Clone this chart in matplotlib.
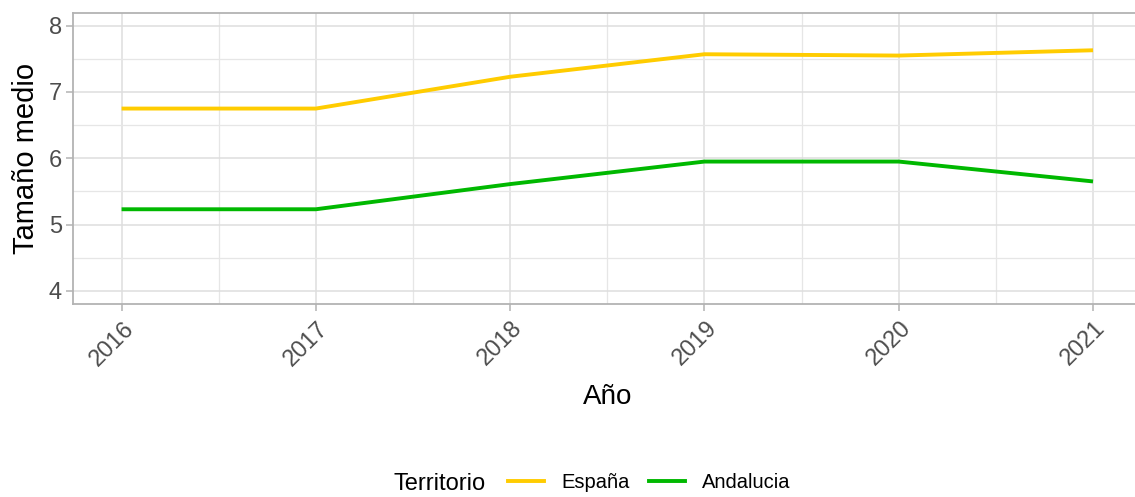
import matplotlib
matplotlib.use('Agg')
import matplotlib.pyplot as plt
from matplotlib.ticker import MultipleLocator
from matplotlib.lines import Line2D
import matplotlib.transforms as mtransforms

plt.rcParams['font.family'] = ['Liberation Sans', 'DejaVu Sans']

years = [2016, 2017, 2018, 2019, 2020, 2021]
espana = [6.75, 6.75, 7.23, 7.57, 7.55, 7.63]
andalucia = [5.23, 5.23, 5.61, 5.95, 5.95, 5.65]
series_names = ['España', 'Andalucia']
series_colors = ['#FFCC00', '#00B800']

W, H = 1135, 497
fig = plt.figure(figsize=(W / 100, H / 100), dpi=100)
ax = fig.add_axes([73 / W, 1 - 304 / H, (1141.6 - 73) / W, (304 - 12.5) / H])

ax.plot(years, espana, color=series_colors[0], lw=2.8, solid_capstyle='butt', zorder=3)
ax.plot(years, andalucia, color=series_colors[1], lw=2.8, solid_capstyle='butt', zorder=3)

ax.set_xlim(2015.75, 2021.25)
ax.set_ylim(3.8, 8.2)
ax.xaxis.set_major_locator(MultipleLocator(1))
ax.xaxis.set_minor_locator(MultipleLocator(0.5))
ax.yaxis.set_major_locator(MultipleLocator(1))
ax.yaxis.set_minor_locator(MultipleLocator(0.5))

ax.grid(which='major', color='#DEDEDE', lw=1.1, zorder=0)
ax.grid(which='minor', color='#E6E6E6', lw=0.9, zorder=0)
ax.set_axisbelow(True)
for s in ax.spines.values():
    s.set_color('#B3B3B3')
    s.set_linewidth(1.3)

ax.tick_params(which='major', length=5, width=1.1, color='#B3B3B3',
               labelsize=17, labelcolor='#4D4D4D', pad=3)
ax.tick_params(which='minor', length=0)

ax.set_xticks(years)
ax.set_xticklabels([str(y) for y in years], rotation=45, ha='right',
                   va='center', rotation_mode='anchor')
offset = mtransforms.ScaledTranslation(0.09, -0.1, fig.dpi_scale_trans)
for lbl in ax.get_xticklabels():
    lbl.set_transform(lbl.get_transform() + offset)

ax.set_xlabel('Año', fontsize=20, color='black', labelpad=10)
ax.set_ylabel('Tamaño medio', fontsize=21, color='black', labelpad=6)

# legend at bottom, title on the left
fig.text(393 / W, 1 - 484 / H, 'Territorio', fontsize=17, ha='left', va='center')
handles = [Line2D([], [], color=c, lw=2.8) for c in series_colors]
fig.legend(handles, series_names, loc='center', bbox_to_anchor=(649 / W, 1 - 483 / H),
           ncol=2, frameon=False, fontsize=14.5, handlelength=1.8, handletextpad=0.85,
           columnspacing=0.95, borderpad=0, borderaxespad=0)

fig.savefig('out.png', dpi=100)
